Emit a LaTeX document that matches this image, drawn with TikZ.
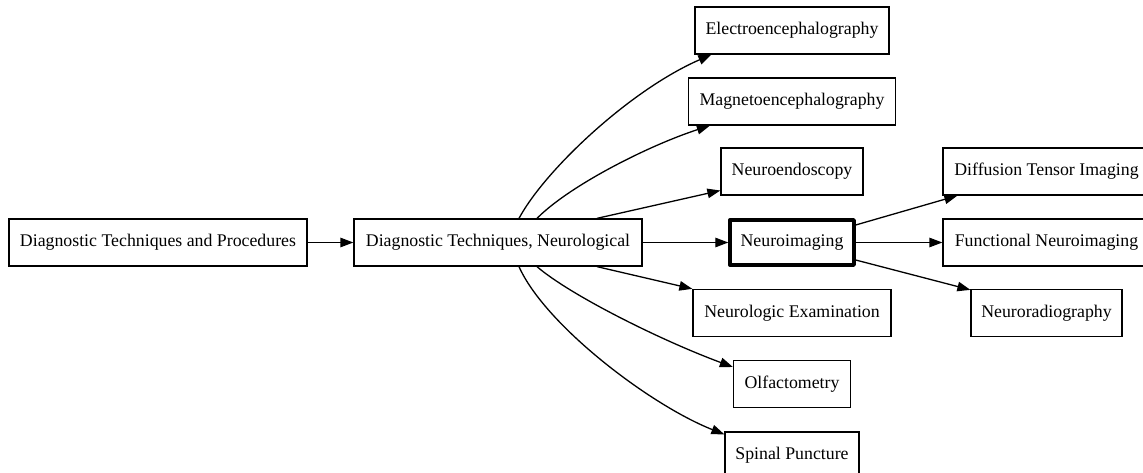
\documentclass[tikz,border=0pt]{standalone}
\usepackage{fontspec}
\setmainfont{Liberation Serif}
\usetikzlibrary{arrows.meta,calc}
\begin{document}
\begin{tikzpicture}[x=1pt,y=1pt,
  box/.style={draw=black,line width=1.3pt,rectangle,inner sep=0pt,minimum height=47pt,
    font=\fontsize{17.8}{20}\selectfont,align=center},
  boldbox/.style={box,line width=3.4pt,line join=round},
  edge/.style={draw=black,line width=1.3pt,-{Triangle[length=13pt,width=9.5pt]}}]
\useasboundingbox (0,0) rectangle (1143,-473);
\clip (0,0) rectangle (1143,-473);
\fill[white] (0,0) rectangle (1143,-473);
% nodes
\node[box,minimum width=298pt] (dtp) at (158,-242.5) {Diagnostic Techniques and Procedures};
\node[box,minimum width=288pt] (dtn) at (498,-242.5) {Diagnostic Techniques, Neurological};
\node[box,minimum width=194pt] (eeg) at (792,-30.5) {Electroencephalography};
\node[box,minimum width=207pt] (meg) at (792,-101.5) {Magnetoencephalography};
\node[box,minimum width=142pt] (ne) at (792,-171.5) {Neuroendoscopy};
\node[boldbox,minimum width=124pt,minimum height=45pt] (ni) at (792,-242.5) {Neuroimaging};
\node[box,minimum width=198pt] (exam) at (792,-313) {Neurologic Examination};
\node[box,minimum width=117pt] (olf) at (792,-384) {Olfactometry};
\node[box,minimum width=134pt] (sp) at (792,-455.5) {Spinal Puncture};
\node[box,minimum width=207pt] (dti) at (1046.5,-171.5) {Diffusion Tensor Imaging};
\node[box,minimum width=207pt] (fni) at (1046.5,-242.5) {Functional Neuroimaging};
\node[box,minimum width=151pt] (nr) at (1046.5,-313) {Neuroradiography};
% edges
\draw[edge] (dtp.east) -- (dtn.west);
\draw[edge] ($(dtn.north)+(21,0)$) .. controls (545,-170) and (630,-90) .. ($(eeg.south west)+(17,0)$);
\draw[edge] ($(dtn.north)+(39,0)$) .. controls (570,-185) and (650,-145) .. ($(meg.south west)+(22,0)$);
\draw[edge] ($(dtn.north)+(99,0)$) -- ($(ne.west)+(0,-19)$);
\draw[edge] (dtn.east) -- (ni.west);
\draw[edge] ($(dtn.south)+(99,0)$) -- (exam.north west);
\draw[edge] ($(dtn.south)+(39,0)$) .. controls (570,-295) and (660,-340) .. ($(olf.west)+(0,17)$);
\draw[edge] ($(dtn.south)+(21,0)$) .. controls (545,-325) and (650,-405) .. ($(sp.north west)+(0,-3)$);
\draw[edge] ($(ni.east)+(0,17.5)$) -- ($(dti.south west)+(15,0)$);
\draw[edge] (ni.east) -- (fni.west);
\draw[edge] ($(ni.east)+(0,-17.5)$) -- ($(nr.north west)+(0,-1)$);
\end{tikzpicture}
\end{document}
